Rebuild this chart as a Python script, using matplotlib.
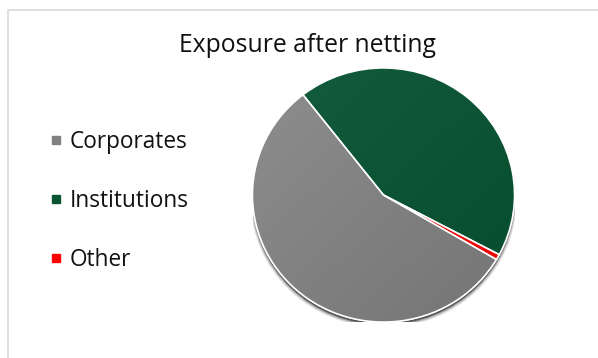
import numpy as np
import matplotlib.pyplot as plt
from matplotlib.patches import Rectangle, Ellipse, Wedge
from matplotlib.lines import Line2D
from matplotlib.colors import to_rgb

# exposure split (percent of total)
categories = ["Corporates", "Institutions", "Other"]
shares = [56.0, 43.3, 0.7]
colors = ["#808080", "#0b5434", "#ff0000"]
# lighter / darker ends of the shading on each wedge
shade_light = ["#8e8e8e", "#135c3c", "#ff2020"]
shade_dark = ["#747474", "#064c2e", "#e80000"]

plt.rcParams["font.family"] = ["Open Sans", "DejaVu Sans"]

fig = plt.figure(figsize=(5.98, 3.58), dpi=100)
fig.patch.set_facecolor("white")

# chart-area frame (only top and left edges fall inside the image)
fig.patches.append(Rectangle((8 / 598, -0.1), 1.2, 1 - 10 / 358 + 0.1,
                             transform=fig.transFigure, fill=False,
                             edgecolor="#d9d9d9", linewidth=1.2))

fig.text(307 / 598, 1 - 46 / 358, "Exposure after netting", ha="center",
         va="center", fontsize=17.8, color="#111111")

# pie axes, slightly wider than tall
cx, cy, rx, ry = 383.5, 195, 131, 127
ax = fig.add_axes([(cx - rx) / 598, 1 - (cy + ry) / 358,
                   2 * rx / 598, 2 * ry / 358])

# soft drop shadow under the pie
for k, a in enumerate([0.10, 0.16, 0.28, 0.55]):
    off = 0.045 - k * 0.008
    ax.add_patch(Ellipse((0.0, -off), 2.0 + 0.01 * (3 - k), 2.0, facecolor="#202020",
                         edgecolor="none", alpha=a, zorder=0))

# first slice starts ~120 deg clockwise from 12 o'clock, slices go clockwise
wedges, _ = ax.pie(shares, colors=colors, startangle=90 - 120.5, counterclock=False,
                   radius=1.0, wedgeprops=dict(edgecolor="white", linewidth=1.1))
ax.set_aspect("auto")
ax.set_xlim(-1, 1)
ax.set_ylim(-1, 1)
ax.axis("off")

# diagonal shading inside each wedge
xx, yy = np.meshgrid(np.linspace(-1, 1, 200), np.linspace(1, -1, 200))
t = np.clip((xx - yy + 2) / 4, 0, 1)
for w, c0, c1 in zip(wedges, shade_light, shade_dark):
    a0 = np.array(to_rgb(c0))
    a1 = np.array(to_rgb(c1))
    img = a0[None, None, :] * (1 - t[..., None]) + a1[None, None, :] * t[..., None]
    im = ax.imshow(img, extent=(-1, 1, -1, 1), aspect="auto", zorder=w.get_zorder() + 0.1,
                   interpolation="bilinear")
    im.set_clip_path(w)
    # redraw the white borders on top of the shading
    ax.add_patch(Wedge(w.center, w.r, w.theta1, w.theta2, facecolor="none",
                       edgecolor="white", linewidth=1.1, zorder=w.get_zorder() + 0.2))

# legend on the left
handles = [Line2D([], [], marker="s", linestyle="none", markersize=5.5,
                  markerfacecolor=c, markeredgecolor=c) for c in colors]
fig.legend(handles, categories, loc="center left", bbox_to_anchor=(29 / 598, 1 - 201 / 358),
           frameon=False, fontsize=16.3, labelspacing=1.53, handlelength=0.6,
           handletextpad=0.3, labelcolor="#111111")

fig.savefig("out.png", dpi=100)
